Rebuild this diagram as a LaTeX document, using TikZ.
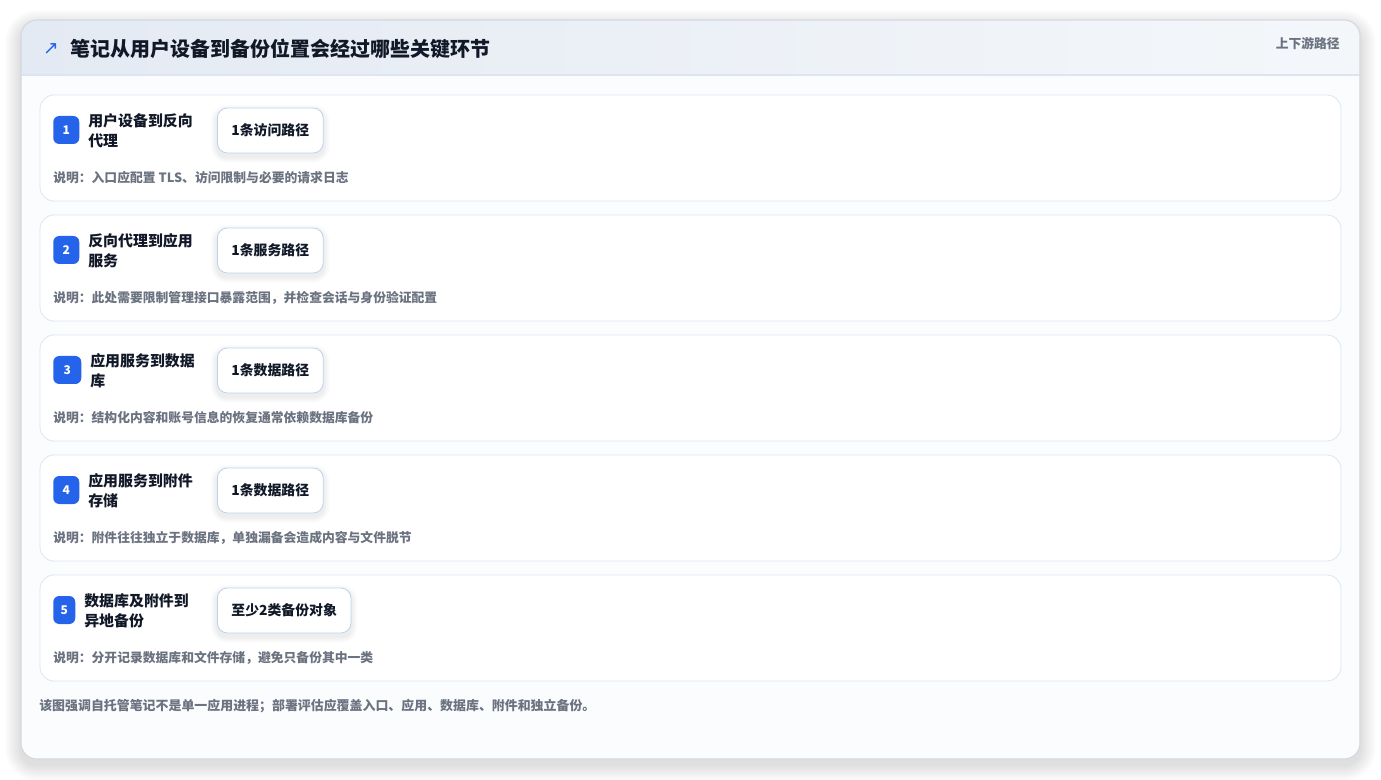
\documentclass[tikz,border=0pt]{standalone}
\usepackage{fontspec}
\setmainfont{Noto Sans CJK SC}
\newfontfamily\symfont{DejaVu Sans}
\pgfdeclarelayer{rowlayer}
\pgfdeclarelayer{shadowlayer}
\pgfsetlayers{rowlayer,shadowlayer,main}
\definecolor{cardline}{HTML}{D3D8E0}
\definecolor{rowline}{HTML}{DCE5F1}
\definecolor{pillline}{HTML}{BCD2EE}
\definecolor{badgeblue}{HTML}{2563EB}
\definecolor{titlec}{HTML}{111827}
\definecolor{descc}{HTML}{6B7280}
\definecolor{headl}{HTML}{E4EAF3}
\definecolor{headr}{HTML}{F4F7FA}
\definecolor{cardbg}{HTML}{FBFCFE}
\tikzset{
  rowbox/.style={draw=rowline, fill=white, rounded corners=10.5pt, line width=0.6pt},
  badge/.style={anchor=west, fill=badgeblue, rounded corners=4.5pt, minimum height=21pt, inner sep=0pt, text=white, font=\fontsize{9}{10}\selectfont\bfseries},
  steplabel/.style={anchor=west, align=left, inner sep=0pt, text=titlec, font=\fontsize{11.2}{15}\selectfont\bfseries},
  pill/.style={anchor=west, draw=pillline, fill=white, rounded corners=7.5pt, line width=0.6pt, minimum height=33.75pt, inner xsep=10.5pt, text=titlec, font=\fontsize{10.4}{12}\selectfont\bfseries},
  desc/.style={anchor=west, inner sep=0pt, text=descc, font=\fontsize{9.6}{11}\selectfont\bfseries},
}
\begin{document}
\begin{tikzpicture}[x=0.75pt,y=-0.75pt]
\begin{pgfonlayer}{rowlayer}
\useasboundingbox (0,0) rectangle (1381,780);
\fill[white] (0,0) rectangle (1381,780);
% card shadow
\foreach \k in {1,...,16}{
  \fill[black, opacity=0.006, rounded corners=12pt+\k*0.75pt] (21-\k,20-\k+6) rectangle (1360+\k,759+\k+6);
}
% card
\fill[cardbg, rounded corners=12pt] (21,20) rectangle (1360,759);
\begin{scope}
  \clip[rounded corners=12pt] (21,20) rectangle (1360,759);
  \shade[left color=headl, right color=headr] (21,20) rectangle (1360,75);
  \draw[rowline, line width=0.8pt] (21,75) -- (1360,75);
\end{scope}
\draw[cardline, line width=0.8pt, rounded corners=12pt] (21,20) rectangle (1360,759);
\end{pgfonlayer}
% header
\node[anchor=center, inner sep=0pt, text=badgeblue, font=\symfont\fontsize{14}{14}\selectfont] (icon) at (51,49) {↗};
\node[anchor=west, inner sep=0pt, text=titlec, font=\fontsize{15}{17}\selectfont\bfseries] (title) at (70,49) {笔记从用户设备到备份位置会经过哪些关键环节};
\node[anchor=east, inner sep=0pt, text=descc, font=\fontsize{9.6}{11}\selectfont\bfseries] (tag) at (1340,44) {上下游路径};
% rows
\foreach \i/\bw/\la/\lb/\pt/\ds [evaluate=\i as \yy using 95+(\i-1)*120] in {
  1/26/用户设备到反向/代理/1条访问路径/说明：入口应配置 TLS、访问限制与必要的请求日志,
  2/26/反向代理到应用/服务/1条服务路径/说明：此处需要限制管理接口暴露范围，并检查会话与身份验证配置,
  3/28/应用服务到数据/库/1条数据路径/说明：结构化内容和账号信息的恢复通常依赖数据库备份,
  4/26/应用服务到附件/存储/1条数据路径/说明：附件往往独立于数据库，单独漏备会造成内容与文件脱节,
  5/22/数据库及附件到/异地备份/至少2类备份对象/说明：分开记录数据库和文件存储，避免只备份其中一类}{
  \begin{pgfonlayer}{rowlayer}
    \path[rowbox] (40,\yy) rectangle (1341,\yy+106);
  \end{pgfonlayer}
  \node[badge, minimum width=\bw*0.75pt] (badge\i) at (53,\yy+35) {\i};
  \node[steplabel] (label\i) at (62+\bw,\yy+36) {\la\\\lb};
  \node[pill] (pill\i) at (217,\yy+35.5) {\pt};
  \begin{pgfonlayer}{shadowlayer}
  \foreach \s in {1,...,6}{
    \fill[black, opacity=0.011, rounded corners=7.5pt+\s*0.75pt]
      ([xshift=-\s*0.75pt, yshift=\s*0.75pt-2.5pt]pill\i.north west) rectangle ([xshift=\s*0.75pt, yshift=-\s*0.75pt-2.5pt]pill\i.south east);
  }
  \end{pgfonlayer}
  \node[desc] (desc\i) at (53,\yy+83) {\ds};
}
\node[anchor=west, inner sep=0pt, text=descc, font=\fontsize{9.7}{11}\selectfont\bfseries] (footer) at (39,706) {该图强调自托管笔记不是单一应用进程；部署评估应覆盖入口、应用、数据库、附件和独立备份。};
\end{tikzpicture}
\end{document}
